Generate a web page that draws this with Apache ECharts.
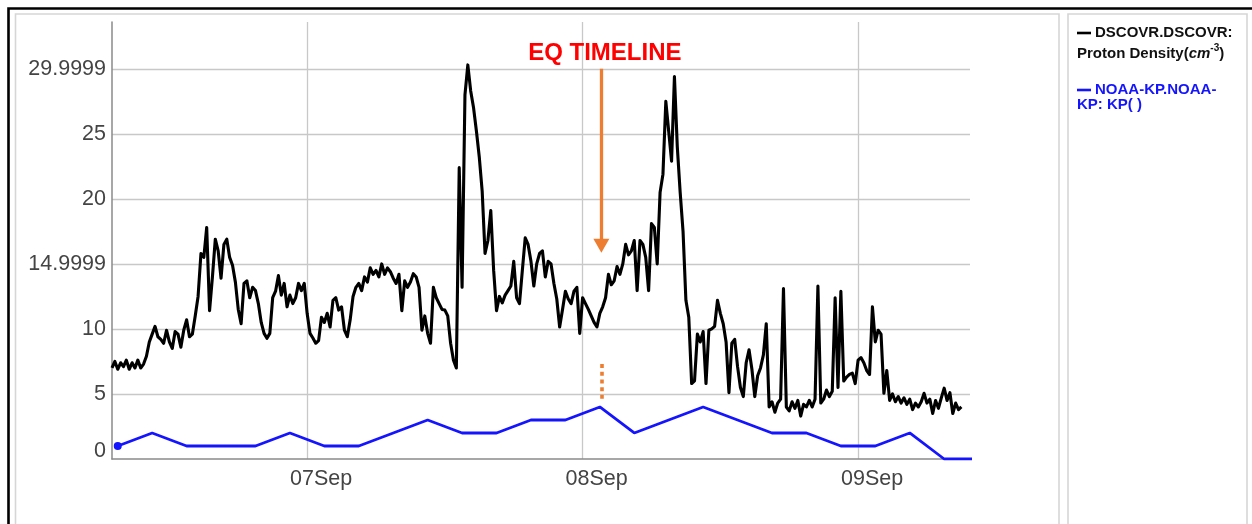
<!DOCTYPE html>
<html>
<head>
<meta charset="utf-8">
<script src="https://cdn.jsdelivr.net/npm/echarts@6/dist/echarts.min.js"></script>
<style>
  html, body { margin: 0; padding: 0; background: #fff; }
  #chart { width: 1252px; height: 524px; }
</style>
</head>
<body>
<div id="chart"></div>
<script>
// Proton density (cm^-3), one sample every 15 minutes from 06 Sep 2017 07:00
const densityStart = [2017, 8, 6, 7, 0];
const densityStepMinutes = 15;
const density = [
  7.0, 7.5, 6.9, 7.4, 7.1, 7.6, 6.9, 7.4,
  7.0, 7.6, 7.0, 7.3, 7.9, 9.0, 9.6, 10.2,
  9.4, 9.2, 8.9, 9.9, 9.0, 8.5, 9.8, 9.6,
  8.6, 9.9, 10.7, 9.4, 9.6, 11.0, 12.5, 15.8,
  15.5, 17.8, 11.4, 14.0, 16.9, 16.0, 13.9, 16.5,
  16.9, 15.5, 14.9, 13.6, 11.5, 10.4, 13.5, 13.7,
  12.4, 13.2, 12.95, 11.95, 10.5, 9.66, 9.28, 9.66,
  12.4, 12.9, 14.1, 12.6, 13.5, 11.7, 12.6, 11.95,
  12.4, 13.5, 12.95, 13.5, 11.2, 9.66, 9.3, 8.9,
  9.1, 10.9, 10.5, 11.2, 10.15, 12.2, 12.4, 11.45,
  11.7, 9.9, 9.4, 10.7, 12.5, 13.2, 13.5, 12.95,
  14.0, 13.6, 14.7, 14.2, 14.5, 14.0, 15.0, 14.2,
  14.7, 14.4, 13.9, 13.5, 14.2, 11.4, 13.7, 13.2,
  13.6, 14.25, 14.0, 13.2, 9.9, 11.0, 9.66, 8.9,
  13.2, 12.4, 11.95, 11.5, 11.45, 11.0, 8.9, 7.6,
  7.0, 22.4, 13.2, 28.0, 30.3, 28.3, 27.0, 25.2,
  23.2, 20.6, 15.8, 16.8, 19.1, 14.5, 11.4, 12.5,
  12.0, 12.6, 12.95, 13.3, 15.2, 12.4, 11.95, 14.5,
  17.0, 16.5, 15.2, 13.3, 15.0, 15.8, 16.0, 14.0,
  15.2, 15.0, 13.5, 12.3, 10.15, 11.5, 12.9, 12.3,
  11.95, 12.9, 13.2, 9.66, 12.4, 11.95, 11.5, 11.0,
  10.5, 10.15, 11.2, 11.7, 12.4, 14.2, 13.4, 13.7,
  14.8, 14.2, 15.0, 16.5, 15.7, 16.0, 16.8, 12.95,
  16.8, 16.5, 15.5, 12.95, 18.1, 17.8, 15.0, 20.5,
  21.9, 27.5, 25.2, 22.9, 29.4, 24.0, 20.5, 17.5,
  12.2, 10.9, 5.8, 6.0, 9.6, 9.0, 9.8, 5.8,
  9.9, 10.0, 10.2, 12.2, 11.2, 10.4, 9.0, 5.1,
  8.9, 9.2, 7.1, 5.5, 4.8, 7.4, 8.4, 6.9,
  4.8, 6.4, 7.0, 8.0, 10.4, 4.0, 4.4, 3.6,
  4.3, 4.6, 13.1, 4.0, 3.7, 4.4, 3.9, 4.5,
  3.3, 4.2, 4.0, 4.5, 4.0, 4.6, 13.3, 4.3,
  4.6, 5.3, 4.8, 5.2, 12.4, 5.5, 12.9, 6.0,
  6.3, 6.5, 6.6, 5.8, 7.6, 7.8, 7.4, 6.8,
  6.5, 11.7, 9.0, 9.9, 9.6, 5.05, 6.8, 4.5,
  5.0, 4.4, 4.8, 4.3, 4.7, 4.2, 4.6, 3.8,
  4.3, 4.0, 4.4, 5.05, 4.3, 4.6, 3.5, 4.5,
  3.9, 4.7, 5.45, 4.5, 5.1, 3.5, 4.3, 3.8,
  4.0
];

// Planetary Kp index, 3-hourly from 06 Sep 2017 07:30
const kpStart = [2017, 8, 6, 7, 30];
const kpStepHours = 3;
const kp = [1, 2, 1, 1, 1, 2, 1, 1, 2, 3, 2, 2, 3, 3, 4, 2, 3, 4, 3, 2, 2, 1, 1, 2, 0, 0];

// Axis range and tick labels
const axisEnd = [2017, 8, 9, 9, 45];
const yTickLabels = ['0', '5', '10', '14.9999', '20', '25', '29.9999'];
const monthNames = ['Jan', 'Feb', 'Mar', 'Apr', 'May', 'Jun', 'Jul', 'Aug', 'Sep', 'Oct', 'Nov', 'Dec'];

// Series names and legend lines
const seriesNames = ['DSCOVR.DSCOVR: Proton Density(cm-3)', 'NOAA-KP.NOAA-KP: KP( )'];
const legendDensityLines = ['DSCOVR.DSCOVR:', 'Proton Density(', 'cm', '-3', ')'];
const legendKpLines = ['NOAA-KP.NOAA-', 'KP: KP( )'];

// Earthquake marker: time, arrow span and dotted span (in density units)
const eqLabel = 'EQ TIMELINE';
const eqTime = [2017, 8, 8, 1, 38];
const eqArrow = [30, 16.4];
const eqDots = [7.3, 4.5];

const toTime = (p) => new Date(p[0], p[1], p[2], p[3], p[4]).getTime();
const t0 = toTime(densityStart);
const tEnd = toTime(axisEnd);
const kp0 = toTime(kpStart);
const tEq = toTime(eqTime);

const densityData = density.map((v, i) => [t0 + i * densityStepMinutes * 60000, v]);
const kpData = kp.map((v, i) => [kp0 + i * kpStepHours * 3600000, v]);

const FONT = '"Liberation Sans", Arial, sans-serif';
const ORANGE = '#ED7D31';
const BLUE = '#1414ff';

const chart = echarts.init(document.getElementById('chart'), null, { renderer: 'canvas' });

chart.setOption({
  animation: false,
  backgroundColor: '#ffffff',
  grid: { left: 112, right: 282, top: 22, bottom: 65, containLabel: false },
  xAxis: {
    type: 'time',
    min: t0,
    max: tEnd,
    minInterval: 86400000,
    maxInterval: 86400000,
    axisLine: { show: true, lineStyle: { color: '#8a8a8a', width: 1.5 } },
    axisTick: { show: false },
    axisLabel: {
      showMinLabel: false,
      showMaxLabel: false,
      margin: 9,
      padding: [0, 0, 0, 28],
      color: '#444',
      fontFamily: FONT,
      fontSize: 21.5,
      formatter: (v) => {
        const d = new Date(v);
        return String(d.getDate()).padStart(2, '0') + monthNames[d.getMonth()];
      }
    },
    splitLine: {
      show: true,
      showMinLine: false,
      showMaxLine: false,
      lineStyle: { color: '#c8c8c8', width: 1.3 }
    }
  },
  yAxis: {
    type: 'value',
    min: 0,
    max: 33.6,
    interval: 5,
    axisLine: { show: true, lineStyle: { color: '#8a8a8a', width: 1.5 } },
    axisTick: { show: false },
    axisLabel: {
      showMaxLabel: false,
      margin: 6,
      color: '#444',
      fontFamily: FONT,
      fontSize: 21.5,
      formatter: (v) => {
        const idx = Math.round(v / 5);
        if (Math.abs(v - idx * 5) > 1e-6 || idx >= yTickLabels.length) return '';
        return idx === 0 ? '{z|' + yTickLabels[0] + '}' : yTickLabels[idx];
      },
      rich: {
        z: { fontFamily: FONT, fontSize: 21.5, color: '#444', padding: [0, 0, 16, 0] }
      }
    },
    splitLine: {
      show: true,
      showMinLine: false,
      showMaxLine: false,
      lineStyle: { color: '#c8c8c8', width: 1.3 }
    }
  },
  series: [
    {
      name: seriesNames[0],
      type: 'line',
      data: densityData,
      symbol: 'none',
      lineStyle: { color: '#000', width: 3.1, join: 'round' },
      z: 3,
      markLine: {
        silent: true,
        animation: false,
        symbol: ['none', 'none'],
        data: [
          [
            {
              coord: [tEq, eqArrow[0]],
              symbol: 'none',
              lineStyle: { color: ORANGE, width: 3.3, type: 'solid' },
              label: {
                show: true,
                position: 'start',
                distance: 3,
                formatter: eqLabel,
                color: '#ff0000',
                fontFamily: FONT,
                fontWeight: 'bold',
                fontSize: 24,
                padding: [0, 0, 0, 7]
              }
            },
            { coord: [tEq, eqArrow[1]], symbol: 'triangle', symbolSize: [16, 14] }
          ],
          [
            {
              coord: [tEq, eqDots[0]],
              symbol: 'none',
              lineStyle: { color: ORANGE, width: 3.6, type: [4, 3.7], cap: 'butt' },
              label: { show: false }
            },
            { coord: [tEq, eqDots[1]], symbol: 'none' }
          ]
        ]
      }
    },
    {
      name: seriesNames[1],
      type: 'line',
      data: kpData,
      showSymbol: true,
      showAllSymbol: true,
      symbol: (v, p) => (p.dataIndex === 0 ? 'circle' : 'none'),
      symbolSize: 8,
      itemStyle: { color: BLUE },
      lineStyle: { color: BLUE, width: 2.8 },
      z: 4
    }
  ],
  graphic: [
    // outer frame
    { type: 'rect', silent: true, z: 100, shape: { x: 8.5, y: 8.5, width: 1300, height: 600 },
      style: { fill: null, stroke: '#000', lineWidth: 2.6 } },
    // chart panel
    { type: 'rect', silent: true, z: 100, shape: { x: 15.5, y: 14, width: 1043.5, height: 600 },
      style: { fill: null, stroke: '#d6d6d6', lineWidth: 1.6 } },
    // legend panel
    { type: 'rect', silent: true, z: 100, shape: { x: 1068, y: 14, width: 179, height: 600 },
      style: { fill: null, stroke: '#d6d6d6', lineWidth: 1.6 } },
    // legend: proton density
    { type: 'line', silent: true, z: 101, shape: { x1: 1077, y1: 33, x2: 1091, y2: 33 },
      style: { stroke: '#000', lineWidth: 2.6 } },
    { type: 'text', silent: true, z: 101, x: 1095, y: 33,
      style: { text: legendDensityLines[0], font: 'bold 15px ' + FONT, fill: '#111',
               verticalAlign: 'middle', align: 'left' } },
    { type: 'text', silent: true, z: 101, x: 1077, y: 54,
      style: {
        text: '{a|' + legendDensityLines[1] + '}{i|' + legendDensityLines[2] + '}{s|' +
              legendDensityLines[3] + '}{a|' + legendDensityLines[4] + '}',
        verticalAlign: 'middle', align: 'left',
        rich: {
          a: { font: 'bold 15px ' + FONT, fill: '#111' },
          i: { font: 'italic bold 15px ' + FONT, fill: '#111' },
          s: { font: 'bold 10px ' + FONT, fill: '#111', padding: [0, 0, 12, 0] }
        }
      } },
    // legend: Kp
    { type: 'line', silent: true, z: 101, shape: { x1: 1077, y1: 90, x2: 1091, y2: 90 },
      style: { stroke: BLUE, lineWidth: 2.6 } },
    { type: 'text', silent: true, z: 101, x: 1095, y: 90,
      style: { text: legendKpLines[0], font: 'bold 15px ' + FONT, fill: BLUE,
               verticalAlign: 'middle', align: 'left' } },
    { type: 'text', silent: true, z: 101, x: 1077, y: 105,
      style: { text: legendKpLines[1], font: 'bold 15px ' + FONT, fill: BLUE,
               verticalAlign: 'middle', align: 'left' } }
  ]
});
</script>
</body>
</html>
